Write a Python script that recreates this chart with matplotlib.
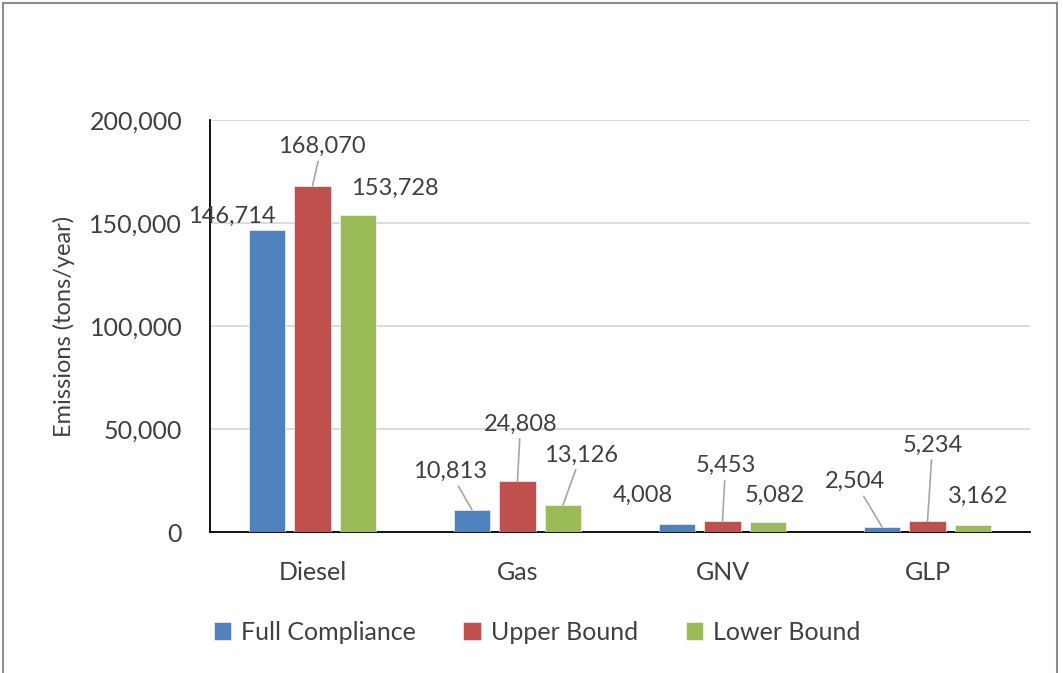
import numpy as np
import matplotlib.pyplot as plt
from matplotlib.lines import Line2D

# data
fuels = ["Diesel", "Gas", "GNV", "GLP"]
series = ["Full Compliance", "Upper Bound", "Lower Bound"]
full_compliance = [146714, 10813, 4008, 2504]
upper_bound = [168070, 24808, 5453, 5234]
lower_bound = [153728, 13126, 5082, 3162]
colors = ["#4F81BD", "#C0504D", "#9BBB59"]

# label offsets from bar top (pixels, dx right / dy up) and whether a leader line is drawn
label_offsets = [
    [(-35, 13, False), (-22, 38, True), (-34, 28, False), (-27, 45, True)],
    [(9, 39, True), (3, 57, True), (3, 55, True), (5, 76, True)],
    [(37, 27, False), (18, 50, True), (7, 26, False), (5, 29, False)],
]

plt.rcParams['font.family'] = ['Lato', 'DejaVu Sans']
fig = plt.figure(figsize=(10.63, 6.73), dpi=100)
ax = fig.add_axes([210 / 1063, 1 - 532 / 673, 820 / 1063, 412 / 673])

x = np.arange(len(fuels))
width = 0.176
step = 0.222
all_vals = [full_compliance, upper_bound, lower_bound]
for i, (name, vals, c) in enumerate(zip(series, all_vals, colors)):
    pos = x + (i - 1) * step
    ax.bar(pos, vals, width, color=c, label=name, edgecolor="white", linewidth=0.4, zorder=3)
    for j, v in enumerate(vals):
        dx, dy, leader = label_offsets[i][j]
        arrow = dict(arrowstyle="-", color="#a6a6a6", lw=1.2, shrinkA=1, shrinkB=0) if leader else None
        ax.annotate(f"{v:,}", xy=(pos[j], v), xytext=(dx * 0.72, dy * 0.72),
                    textcoords="offset points", ha="center", va="center",
                    fontsize=17, color="#404040", arrowprops=arrow, zorder=4)

ax.set_xlim(-0.5, 3.5)
ax.set_ylim(0, 200000)
ax.set_yticks(np.arange(0, 200001, 50000))
ax.yaxis.set_major_formatter(plt.FuncFormatter(lambda v, p: f"{int(v):,}"))
ax.set_xticks(x)
ax.set_xticklabels(fuels)
ax.tick_params(axis="both", length=0, labelsize=18, colors="#404040")
ax.tick_params(axis="y", pad=20)
ax.tick_params(axis="x", pad=21)
ax.grid(axis="y", color="#d9d9d9", lw=1.3, zorder=0)
for s in ["top", "right"]:
    ax.spines[s].set_visible(False)
ax.spines["left"].set_color("black")
ax.spines["bottom"].set_color("black")
ax.spines["left"].set_linewidth(1.3)
ax.spines["bottom"].set_linewidth(1.3)
ax.set_ylabel("Emissions (tons/year)", fontsize=17, color="#404040")
ax.yaxis.set_label_coords((75 - 210) / 820, 0.5)

fig.legend(loc="center", bbox_to_anchor=(537 / 1063, 1 - 632 / 673), ncol=3, frameon=False,
           fontsize=18, handlelength=0.7, handleheight=0.7, handletextpad=0.4, columnspacing=1.9,
           labelcolor="#404040")

# outer frame of the chart
bc = "#8c8c8c"
fig.add_artist(Line2D([3 / 1063, 3 / 1063], [0, 1 - 3 / 673], color=bc, lw=1.5))
fig.add_artist(Line2D([3 / 1063, 1057 / 1063], [1 - 3 / 673, 1 - 3 / 673], color=bc, lw=1.5))
fig.add_artist(Line2D([1057 / 1063, 1057 / 1063], [0, 1 - 3 / 673], color=bc, lw=1.5))

fig.savefig("out.png", dpi=100)
